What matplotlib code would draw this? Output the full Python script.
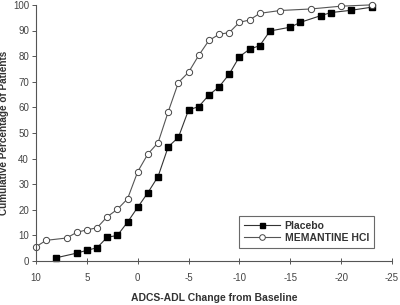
import matplotlib
matplotlib.use("Agg")
import matplotlib.pyplot as plt

plt.rcParams["font.family"] = ["Liberation Sans", "DejaVu Sans"]

# ADCS-ADL change from baseline (x) vs cumulative % of patients (y)
placebo_x = [8, 6, 5, 4, 3, 2, 1, 0, -1, -2, -3, -4, -5, -6, -7, -8, -9,
             -10, -11, -12, -13, -15, -16, -18, -19, -21, -23]
placebo_y = [1.3, 3.1, 4.2, 5.2, 9.3, 10, 15.2, 21, 26.7, 33, 44.6, 48.3,
             59, 60.3, 64.8, 68, 73, 79.8, 82.7, 84.1, 89.8, 91.3, 93.2,
             95.8, 97, 97.9, 99.1]

mem_x = [10, 9, 7, 6, 5, 4, 3, 2, 1, 0, -1, -2, -3, -4, -5, -6, -7, -8,
         -9, -10, -11, -12, -14, -17, -20, -23]
mem_y = [5.6, 8.1, 9, 11.2, 12.2, 13, 17.3, 20.2, 24.3, 34.9, 41.8, 46.2,
         58.3, 69.7, 73.7, 80.3, 86.1, 88.5, 89.2, 93.2, 94.1, 96.7, 97.8,
         98.4, 99.5, 100]

xticks = [10, 5, 0, -5, -10, -15, -20, -25]
yticks = [0, 10, 20, 30, 40, 50, 60, 70, 80, 90, 100]

fig = plt.figure(figsize=(4.0, 3.05), dpi=100)
ax = fig.add_axes([0.09, 0.144, 0.89, 0.84])

ax.plot(placebo_x, placebo_y, color="#333333", lw=0.8, marker="s",
        ms=4, mfc="black", mec="black", label="Placebo", clip_on=False)
ax.plot(mem_x, mem_y, color="#555555", lw=0.8, marker="o", ms=4.5,
        mfc="white", mec="#444444", mew=0.7, label="MEMANTINE HCl",
        clip_on=False)

ax.set_xlim(10, -25)
ax.set_ylim(0, 100)
ax.set_xticks(xticks)
ax.set_yticks(yticks)
ax.set_xticklabels([str(v) for v in xticks])

for side in ["top", "right"]:
    ax.spines[side].set_visible(False)
for side in ["left", "bottom"]:
    ax.spines[side].set_color("#555555")
    ax.spines[side].set_linewidth(0.8)

ax.tick_params(axis="x", direction="inout", length=5, width=0.7,
               colors="#555555", labelsize=7, labelcolor="#444444", pad=6)
ax.tick_params(axis="y", direction="out", length=3, width=0.7,
               colors="#555555", labelsize=7, labelcolor="#444444", pad=2)

ax.set_xlabel("ADCS-ADL Change from Baseline", fontsize=7.5,
              fontweight="bold", color="#333333", labelpad=7)
ax.set_ylabel("Cumulative Percentage of Patients", fontsize=7.2,
              fontweight="bold", color="#333333", labelpad=3)

leg = ax.legend(loc="lower right", bbox_to_anchor=(0.965, 0.03),
                frameon=True, fancybox=False,
                prop={"weight": "bold", "size": 7.5}, handlelength=3.4,
                borderpad=0.5, labelspacing=0.2, handletextpad=0.5,
                markerscale=0.9)
leg.get_frame().set_edgecolor("#444444")
leg.get_frame().set_linewidth(0.8)
for t in leg.get_texts():
    t.set_color("#333333")

fig.savefig("out.png", dpi=100)
